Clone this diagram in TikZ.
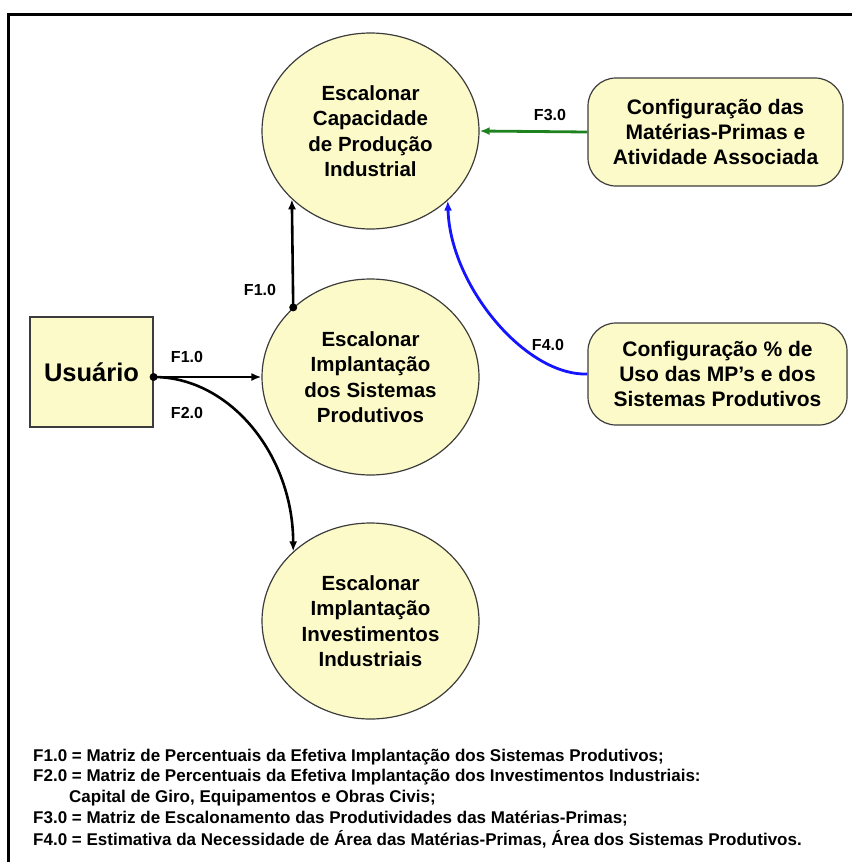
\documentclass[tikz,border=0pt]{standalone}
\usepackage{fontspec}
\setmainfont{Liberation Sans}
\usetikzlibrary{shapes.geometric,arrows.meta}
\definecolor{cream}{RGB}{252,250,200}
\definecolor{edgegray}{RGB}{60,60,60}
\definecolor{flowgreen}{RGB}{30,130,30}
\definecolor{flowblue}{RGB}{20,20,255}
\tikzset{
  proc/.style={ellipse, draw=edgegray, line width=1.2pt, fill=cream, minimum width=217pt, minimum height=196pt, inner sep=0pt, align=center, font=\bfseries\fontsize{20.5}{25.5}\selectfont},
  ext/.style={rectangle, rounded corners=28pt, draw=edgegray, line width=1.2pt, fill=cream, align=center, inner sep=0pt, font=\bfseries\fontsize{21}{25}\selectfont},
  flow/.style={line width=2.6pt, -{Latex[length=10pt,width=8pt]}},
  flab/.style={font=\bfseries\fontsize{16}{18}\selectfont, inner sep=0pt},
  legend/.style={anchor=west, inner sep=0pt, font=\bfseries\fontsize{17}{19}\selectfont},
  dotm/.style={circle, fill=black, inner sep=0pt, minimum size=8pt}
}
\begin{document}
\begin{tikzpicture}[x=1pt,y=-1pt]
\useasboundingbox (0,0) rectangle (852,862);
\draw[line width=3.5pt] (8.5,862) -- (8.5,14.5) -- (852,14.5);

\node[proc] (c1) at (370.5,131) {Escalonar\\Capacidade\\de Produção\\Industrial};
\node[proc] (c2) at (370.5,377) {Escalonar\\Implantação\\dos Sistemas\\Produtivos};
\node[proc] (c3) at (370.5,621) {Escalonar\\Implantação\\Investimentos\\Industriais};

\node[rectangle, draw=edgegray, line width=1.2pt, fill=cream, minimum width=123pt, minimum height=110pt, inner sep=0pt, font=\bfseries\fontsize{25.5}{30}\selectfont] (usr) at (91.5,372) {Usuário};

\node[ext, minimum width=255pt, minimum height=108pt] (b3) at (715.5,132) {Configuração das\\Matérias-Primas e\\Atividade Associada};
\node[ext, minimum width=259pt, minimum height=102pt] (b4) at (717.5,374) {Configuração \% de\\Uso das MP’s e dos\\Sistemas Produtivos};

\node[dotm] (d0) at ([yshift=-5pt]usr.east) {};
\node[dotm] (d1) at (c2.138.5) {};

\draw[flow] (d0.center) -- (d0.center -| c2.west);
\draw[flow] (d0.center) .. controls (230,377) and (293,455) .. (c3.138.5);
\draw[flow] (d1.center) -- (c1.221.5);
\draw[flow, color=flowgreen, line width=2.8pt] (b3.west) -- (c1.east);
\draw[flow, color=flowblue, line width=2.8pt] (b4.west) .. controls (525,376) and (450,285) .. (c1.318.5);

\node[flab] (l1) at (260,290) {F1.0};
\node[flab] (l2) at (187,357) {F1.0};
\node[flab] (l3) at (187,413) {F2.0};
\node[flab] (l4) at (550,115) {F3.0};
\node[flab] (l5) at (548,345) {F4.0};

\node[legend] (g1) at (33,757) {F1.0 = Matriz de Percentuais da Efetiva Implantação dos Sistemas Produtivos;};
\node[legend] (g2) at (33,777.5) {F2.0 = Matriz de Percentuais da Efetiva Implantação dos Investimentos Industriais:};
\node[legend] (g3) at (69,798) {Capital de Giro, Equipamentos e Obras Civis;};
\node[legend] (g4) at (33,818.5) {F3.0 = Matriz de Escalonamento das Produtividades das Matérias-Primas;};
\node[legend] (g5) at (33,839) {F4.0 = Estimativa da Necessidade de Área das Matérias-Primas, Área dos Sistemas Produtivos.};
\end{tikzpicture}
\end{document}
